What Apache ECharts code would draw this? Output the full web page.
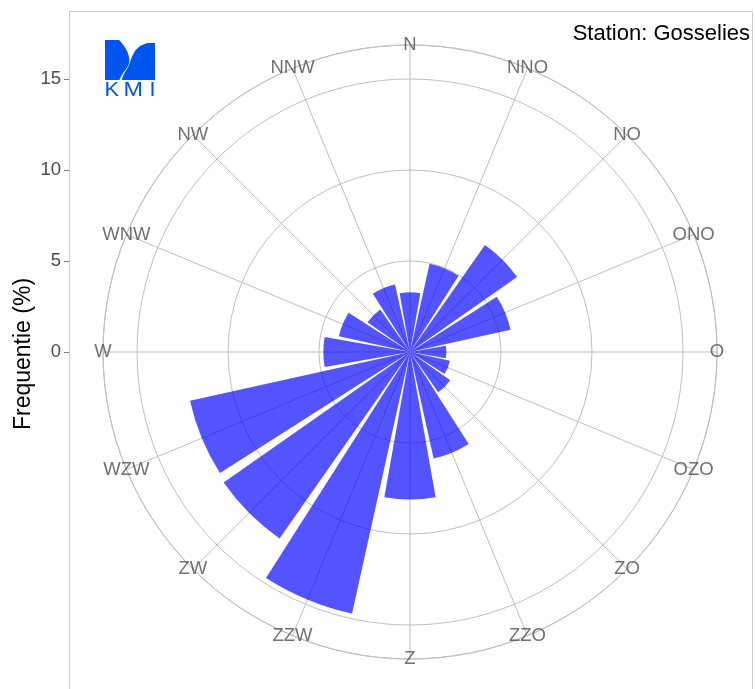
<!DOCTYPE html>
<html>
<head>
<meta charset="utf-8">
<script src="https://cdn.jsdelivr.net/npm/echarts@6/dist/echarts.min.js"></script>
<style>
html,body{margin:0;padding:0;background:#fff;}
#c{width:755px;height:689px;}
</style>
</head>
<body>
<div id="c"></div>
<script>
// ---- data ----
const directions = ['N','NNO','NO','ONO','O','OZO','ZO','ZZO','Z','ZZW','ZW','WZW','W','WNW','NW','NNW'];
const frequency = [3.28, 4.97, 7.18, 5.66, 2.0, 2.25, 2.7, 6.0, 8.11, 14.72, 12.5, 12.38, 4.76, 4.0, 2.85, 3.8];
const yTickValues = [0, 5, 10, 15];
const stationTitle = 'Station: Gosselies';
const yTitle = 'Frequentie (%)';

// ---- layout ----
const CX = 410, CY = 352, R = 307;
const PX_PER_UNIT = 18.2;
const RMAX = R / PX_PER_UNIT;
const FONT = '"Liberation Sans", Arial, Helvetica, sans-serif';
const GRID_COLOR = '#bfbfbf';
const TEXT_GRAY = '#4d4d4d';
const LOGO = '#0055ee';

// logo outline helper: segments of lines and cubic beziers -> polygon points
function outline(start, segs) {
  const pts = [start.slice()];
  let cur = start.slice();
  segs.forEach(s => {
    if (s.length === 2) { pts.push(s.slice()); cur = s.slice(); }
    else {
      const [c1, c2, e] = s;
      for (let k = 1; k <= 12; k++) {
        const t = k / 12, u = 1 - t;
        pts.push([
          u*u*u*cur[0] + 3*u*u*t*c1[0] + 3*u*t*t*c2[0] + t*t*t*e[0],
          u*u*u*cur[1] + 3*u*u*t*c1[1] + 3*u*t*t*c2[1] + t*t*t*e[1]
        ]);
      }
      cur = e.slice();
    }
  });
  return pts;
}
const logoLeft = outline([105, 40], [
  [119, 40],
  [[125, 46], [129, 53], [129.3, 60]],
  [[129.5, 66], [125, 70], [122.5, 74]],
  [[121, 76.5], [120, 78.5], [119.5, 80]],
  [105, 80]
]);
const logoRight = outline([155, 43], [
  [155, 80],
  [121.8, 80],
  [[122.5, 77], [123.5, 74.5], [126, 70.5]],
  [[129, 66], [130, 62], [131.5, 58]],
  [[134, 51], [138, 46], [146, 43.5]],
  [[149, 42.8], [152, 42.8], [155, 43]]
]);

const chart = echarts.init(document.getElementById('c'), null, {renderer: 'canvas'});

function txt(text, x, y, size, fill, align, extra) {
  return Object.assign({
    type: 'text', z: 10, x: x, y: y, silent: true,
    style: {text: text, fill: fill, fontSize: size, fontFamily: FONT,
            align: align, verticalAlign: 'middle', textAlign: align, textVerticalAlign: 'middle'}
  }, extra || {});
}

const option = {
  animation: false,
  backgroundColor: '#ffffff',
  polar: [
    {center: [CX, CY], radius: R},
    {center: [CX, CY], radius: R}
  ],
  angleAxis: [
    {
      polarIndex: 0, type: 'category', data: directions,
      startAngle: 90 + 360 / directions.length / 2, clockwise: true,
      axisLine: {show: false}, axisTick: {show: false},
      axisLabel: {show: false}, splitLine: {show: false}, splitArea: {show: false}
    },
    {
      polarIndex: 1, type: 'value', min: 0, max: 360, interval: 360 / directions.length,
      startAngle: 90, clockwise: true,
      axisLine: {show: true, lineStyle: {color: GRID_COLOR, width: 1}},
      axisTick: {show: false}, axisLabel: {show: false},
      splitLine: {show: true, lineStyle: {color: GRID_COLOR, width: 1}}
    }
  ],
  radiusAxis: [
    {
      polarIndex: 0, type: 'value', min: 0, max: RMAX,
      axisLine: {show: false}, axisTick: {show: false},
      axisLabel: {show: false}, splitLine: {show: false}
    },
    {
      polarIndex: 1, type: 'value', min: 0, max: RMAX, interval: 5,
      axisLine: {show: false}, axisTick: {show: false},
      axisLabel: {show: false},
      splitLine: {show: true, lineStyle: {color: GRID_COLOR, width: 1}}
    }
  ],
  grid: {left: 69, top: CY - 15 * PX_PER_UNIT, height: 15 * PX_PER_UNIT, width: 10},
  xAxis: {type: 'value', show: false},
  yAxis: {
    type: 'value', min: yTickValues[0], max: yTickValues[yTickValues.length - 1], interval: 5,
    axisLine: {show: false},
    axisTick: {show: true, length: 5, lineStyle: {color: '#7f7f7f', width: 1}},
    axisLabel: {show: true, margin: 8, color: TEXT_GRAY, fontSize: 18.5, fontFamily: FONT},
    splitLine: {show: false}
  },
  series: [
    {
      type: 'bar', coordinateSystem: 'polar', polarIndex: 0,
      data: frequency,
      barCategoryGap: '11%',
      itemStyle: {color: 'rgba(0,0,255,0.67)'},
      z: 3
    },
    {
      type: 'scatter', coordinateSystem: 'polar', polarIndex: 0,
      data: directions.map((d, i) => ({name: d, value: [RMAX, i]})),
      symbolSize: 1,
      itemStyle: {color: 'rgba(0,0,0,0)'},
      label: {
        show: true, position: 'inside', formatter: '{b}',
        color: TEXT_GRAY, fontSize: 18.5, fontFamily: FONT
      },
      silent: true, z: 5
    }
  ],
  graphic: [
    {
      type: 'rect', z: 0, silent: true,
      shape: {x: 69.5, y: 11.5, width: 683, height: 720},
      style: {fill: 'none', stroke: '#cccccc', lineWidth: 1}
    },
    txt(stationTitle, 750, 34, 22, '#000000', 'right'),
    txt(yTitle, 24, 354, 23, '#000000', 'center', {rotation: Math.PI / 2}),
    {type: 'polygon', z: 10, silent: true, shape: {points: logoLeft}, style: {fill: LOGO}},
    {type: 'polygon', z: 10, silent: true, shape: {points: logoRight}, style: {fill: LOGO}},
    txt('K', 104.5, 90.5, 19.5, LOGO, 'left', {scaleX: 1.12}),
    txt('M', 123.5, 90.5, 19.5, LOGO, 'left', {scaleX: 1.2}),
    txt('I', 149.5, 90.5, 19.5, LOGO, 'left', {scaleX: 1.1})
  ]
};
chart.setOption(option);
</script>
</body>
</html>
